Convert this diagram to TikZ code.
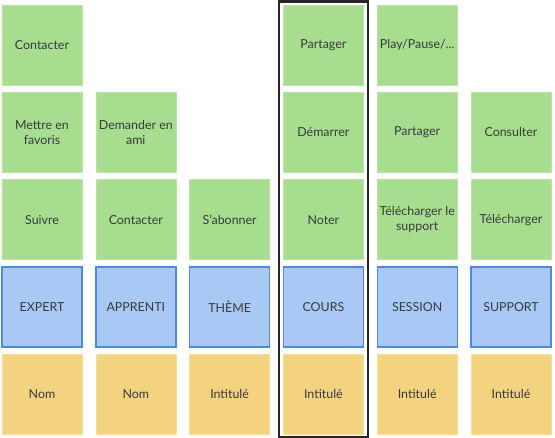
\documentclass[tikz,border=0pt]{standalone}
\usepackage{fontspec}
\setmainfont{Lato}
\usetikzlibrary{positioning}
\definecolor{actfill}{HTML}{A6DD8F}
\definecolor{actedge}{HTML}{B9E4A6}
\definecolor{entfill}{HTML}{AAC8F6}
\definecolor{entedge}{HTML}{4D88E3}
\definecolor{attfill}{HTML}{F3D37F}
\definecolor{attedge}{HTML}{F5DD9C}
\definecolor{txt}{HTML}{3A3A3A}
\tikzset{
    box/.style = {
        rectangle,
        minimum width=80pt,
        minimum height=80pt,
        inner sep=1pt, outer sep=0pt,
        align=center,
        text=txt,
        font=\fontsize{12.4}{15.5}\selectfont
    },
    action/.style = {
        box, fill=actfill, draw=actedge, line width=0.6pt
    },
    entity/.style = {
        box, fill=entfill, draw=entedge, line width=1.4pt
    },
    attribute/.style = {
        box, fill=attfill, draw=attedge, line width=0.6pt
    },
    frame/.style = {
        draw=black!85, line width=2.6pt
    }
}

\begin{document}
\begin{tikzpicture}[node distance=7.3pt and 13.8pt]
\useasboundingbox (0,0) rectangle (555pt,-438pt);

% entities
\node (expert) [entity] at (42pt,-307pt) {EXPERT};
\node (apprenti) [entity, right=of expert] {APPRENTI};
\node (theme) [entity, right=of apprenti] {THÈME};
\node (cours) [entity, right=of theme] {COURS};
\node (session) [entity, right=of cours] {SESSION};
\node (support) [entity, right=of session] {SUPPORT};

% attributes
\node (nomexp) [attribute, below=of expert] {Nom};
\node (nomapp) [attribute, below=of apprenti] {Nom};
\node (intth) [attribute, below=of theme] {Intitulé};
\node (intco) [attribute, below=of cours] {Intitulé};
\node (intse) [attribute, below=of session] {Intitulé};
\node (intsu) [attribute, below=of support] {Intitulé};

% actions
\node (suivre) [action, above=of expert] {Suivre};
\node (favoris) [action, above=of suivre] {Mettre en\\favoris};
\node (contexp) [action, above=of favoris] {Contacter};
\node (contapp) [action, above=of apprenti] {Contacter};
\node (ami) [action, above=of contapp] {Demander en\\ami};
\node (abonner) [action, above=of theme] {S'abonner};
\node (noter) [action, above=of cours] {Noter};
\node (demarrer) [action, above=of noter] {Démarrer};
\node (partco) [action, above=of demarrer] {Partager};
\node (telsup) [action, above=of session] {Télécharger le\\support};
\node (partse) [action, above=of telsup] {Partager};
\node (play) [action, above=of partse] {Play/Pause/...};
\node (telech) [action, above=of support] {Télécharger};
\node (consulter) [action, above=of telech] {Consulter};

% highlighted column
\draw [frame] ([xshift=-4.5pt]partco.west |- 0,-1.5pt) rectangle ([xshift=4.5pt]intco.east |- 0,-437pt);

\end{tikzpicture}
\end{document}
